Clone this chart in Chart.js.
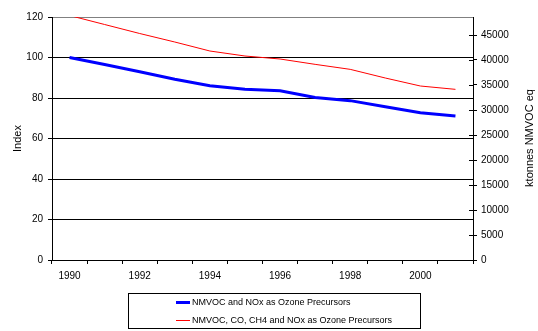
<!DOCTYPE html>
<html>
<head>
<meta charset="utf-8">
<script src="https://cdn.jsdelivr.net/npm/chart.js@4"></script>
<style>
  html, body { margin: 0; padding: 0; background: #fff; }
  #wrap { width: 538px; height: 331px; }
</style>
</head>
<body>
<div id="wrap"><canvas id="mycanvas" width="538" height="331"></canvas></div>
<script>
// data
var years = ['1990','1991','1992','1993','1994','1995','1996','1997','1998','1999','2000','2001'];
var indexValues = [100, 96.5, 93, 89.3, 86.1, 84.3, 83.6, 80.2, 78.7, 75.7, 72.7, 71.1];
var ktonnesValues = [48900, 47100, 45300, 43600, 41800, 40800, 40200, 39130, 38130, 36400, 34800, 34130];
var seriesNames = ['NMVOC and NOx as Ozone Precursors', 'NMVOC, CO, CH4 and NOx as Ozone Precursors'];
var leftTicks = [0, 20, 40, 60, 80, 100, 120];
var rightTicks = [0, 5000, 10000, 15000, 20000, 25000, 30000, 35000, 40000, 45000];
var rightMax = 48600;

var fam = '"Liberation Sans", Arial, sans-serif';
var tickFont = { family: fam, size: 10 };
var titleFont = { family: fam, size: 11 };

// right axis title reads bottom-to-top, legend box has left aligned lines
var extras = {
  id: 'extras',
  afterDraw: function(chart) {
    var c = chart.ctx;
    var area = chart.chartArea;
    c.save();
    c.font = '11px ' + fam;
    c.fillStyle = '#000';
    c.translate(530, 138);
    c.rotate(-Math.PI / 2);
    c.textAlign = 'center';
    c.textBaseline = 'middle';
    c.fillText('ktonnes NMVOC eq', 0, 0);
    c.restore();

    // inner half of the right axis tick marks
    c.save();
    c.strokeStyle = '#000';
    c.lineWidth = 1;
    var s = chart.scales.y1;
    s.ticks.forEach(function(t) {
      var y = Math.round(s.getPixelForValue(t.value)) + 0.5;
      c.beginPath();
      c.moveTo(Math.round(area.right) - 4, y);
      c.lineTo(Math.round(area.right), y);
      c.stroke();
    });
    c.restore();

    c.save();
    c.strokeStyle = '#000';
    c.lineWidth = 1;
    c.strokeRect(128.5, 293.5, 292, 35);
    c.font = '9px ' + fam;
    c.textBaseline = 'middle';
    c.fillStyle = '#000';
    var rows = [302.5, 320.5];
    chart.data.datasets.forEach(function(ds, i) {
      c.strokeStyle = ds.borderColor;
      c.lineWidth = ds.borderWidth;
      c.beginPath();
      c.moveTo(176, rows[i]);
      c.lineTo(190, rows[i]);
      c.stroke();
      c.fillText(ds.label, 192, rows[i] + 0.5);
    });
    c.restore();
  }
};

var ctx = document.getElementById('mycanvas');
var lineGraph = new Chart(ctx, {
  type: 'line',
  data: {
    labels: years,
    datasets: [
      {
        label: seriesNames[0],
        data: indexValues,
        borderColor: '#0000ff',
        borderWidth: 3,
        pointRadius: 0,
        yAxisID: 'y',
        tension: 0
      },
      {
        label: seriesNames[1],
        data: ktonnesValues,
        borderColor: '#ff0000',
        borderWidth: 1,
        pointRadius: 0,
        yAxisID: 'y1',
        tension: 0,
        clip: 0
      }
    ]
  },
  options: {
    responsive: false,
    animation: false,
    devicePixelRatio: 1,
    layout: { padding: { top: 17, left: 0, right: 0, bottom: 0 } },
    plugins: {
      legend: { display: false },
      tooltip: { enabled: false }
    },
    scales: {
      x: {
        offset: true,
        grid: { offset: true, drawOnChartArea: false, drawTicks: true, tickLength: 4, tickColor: '#000' },
        border: { color: '#000', width: 1 },
        ticks: {
          autoSkip: false,
          maxRotation: 0,
          color: '#000',
          font: tickFont,
          padding: 6,
          callback: function(v, i) { return i % 2 === 0 ? years[i] : ''; }
        },
        afterFit: function(s) { s.height = 71; }
      },
      y: {
        position: 'left',
        min: leftTicks[0],
        max: leftTicks[leftTicks.length - 1],
        afterBuildTicks: function(s) { s.ticks = leftTicks.map(function(v) { return { value: v }; }); },
        grid: {
          color: function(c) { return c.tick && c.tick.value === 120 ? '#808080' : '#000'; },
          tickColor: '#000',
          tickLength: 4,
          lineWidth: 1
        },
        border: { color: '#000', width: 1 },
        ticks: { color: '#000', font: tickFont, padding: 5 },
        title: { display: true, text: 'Index', color: '#000', font: titleFont, padding: { top: 11, bottom: 0 } },
        afterFit: function(s) { s.width = 52; }
      },
      y1: {
        position: 'right',
        min: 0,
        max: rightMax,
        afterBuildTicks: function(s) { s.ticks = rightTicks.map(function(v) { return { value: v }; }); },
        ticks: { color: '#000', font: tickFont, padding: 4, callback: function(v) { return String(v); } },
        grid: { drawOnChartArea: false, tickLength: 4, tickColor: '#000' },
        border: { color: '#000', width: 1 },
        afterFit: function(s) { s.width = 65; }
      }
    }
  },
  plugins: [extras]
});
</script>
</body>
</html>
